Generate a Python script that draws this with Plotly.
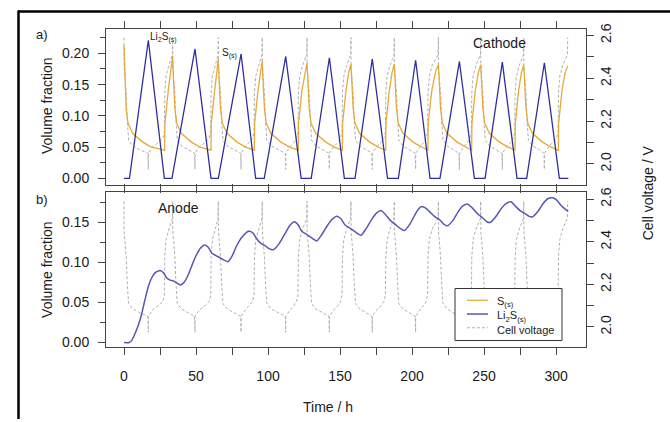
import plotly.graph_objects as go

# ---------------- data ----------------
# Cathode Li2S(s) volume fraction (triangle wave)
li2s_cat_t = [0, 3.8, 16.9, 28.0, 33.3, 49.3, 60.4, 65.5, 81.3, 91.4, 97.4, 112.3, 123.0,
              130.0, 142.6, 153.0, 160.4, 172.4, 183.0, 190.5, 202.5, 212.5, 219.4, 232.9,
              243.3, 250.7, 262.7, 272.9, 279.6, 291.9, 302.3, 308.5]
li2s_cat_v = [0, 0, 0.221, 0, 0, 0.207, 0, 0, 0.199, 0, 0, 0.195, 0,
              0, 0.193, 0, 0, 0.191, 0, 0, 0.189, 0, 0, 0.187,
              0, 0, 0.186, 0, 0, 0.185, 0, 0]

# Cathode S(s) volume fraction
s_cat_t = [0, 0.7, 1.5, 2.8, 6, 13, 19, 28.2, 28.4, 30.7, 32.5,
           33.8, 34.5, 35.3, 36.6, 39.8, 46.8, 52.8, 60.4, 60.6, 62.9, 64.3,
           65.5, 66.2, 67.0, 68.3, 71.5, 78.5, 84.5, 90.5, 90.7, 93.0, 94.7,
           96.0, 96.7, 97.5, 98.8, 102.0, 109.0, 115.0, 121.0, 121.2, 123.5, 125.6,
           127.1, 127.8, 128.6, 129.9, 133.1, 140.1, 146.1, 151.6, 151.8, 154.1, 156.1,
           157.6, 158.3, 159.1, 160.4, 163.6, 170.6, 176.6, 181.7, 181.9, 184.2, 186.2,
           187.7, 188.4, 189.2, 190.5, 193.7, 200.7, 206.7, 211.0, 211.2, 213.7, 216.3,
           218.3, 219.0, 219.8, 221.1, 224.3, 231.3, 237.3, 241.4, 241.6, 243.9, 246.1,
           247.7, 248.4, 249.2, 250.5, 253.7, 260.7, 266.7, 271.5, 271.7, 274.0, 276.0,
           277.6, 278.3, 279.1, 280.4, 283.6, 290.6, 296.6, 301.6, 301.8, 304.1, 306.2,
           308.1]
s_cat_v = [0.2135, 0.150, 0.112, 0.088, 0.072, 0.058, 0.050, 0.045, 0.088, 0.140, 0.170,
           0.196, 0.150, 0.112, 0.088, 0.072, 0.058, 0.050, 0.045, 0.088, 0.140, 0.170,
           0.191, 0.150, 0.112, 0.088, 0.072, 0.058, 0.050, 0.045, 0.088, 0.140, 0.170,
           0.188, 0.150, 0.112, 0.088, 0.072, 0.058, 0.050, 0.045, 0.088, 0.140, 0.170,
           0.185, 0.150, 0.112, 0.088, 0.072, 0.058, 0.050, 0.045, 0.088, 0.140, 0.170,
           0.183, 0.150, 0.112, 0.088, 0.072, 0.058, 0.050, 0.045, 0.088, 0.140, 0.170,
           0.183, 0.150, 0.112, 0.088, 0.072, 0.058, 0.050, 0.045, 0.088, 0.140, 0.170,
           0.182, 0.150, 0.112, 0.088, 0.072, 0.058, 0.050, 0.045, 0.088, 0.140, 0.170,
           0.182, 0.150, 0.112, 0.088, 0.072, 0.058, 0.050, 0.045, 0.088, 0.140, 0.170,
           0.181, 0.150, 0.112, 0.088, 0.072, 0.058, 0.050, 0.045, 0.088, 0.140, 0.168,
           0.180]

# Anode Li2S(s) volume fraction
li2s_an_t = [0, 3.5, 5.5, 7.6, 10, 12.3, 14.5, 16.9, 19, 21.5, 25, 27.5, 29.6, 32, 34.3, 37,
             39.3, 42, 44.7, 47.5, 50.4, 53, 56, 58.5, 60.9, 63.5, 66.6, 69.5, 72.2, 75, 78.2,
             82, 86.5, 89.5, 92, 95, 98, 101, 103.7, 107.5, 111.8, 115, 118.3, 121, 123.4, 126,
             128.5, 131, 133.8, 137, 140.8, 144.5, 147.7, 150.5, 153.5, 156, 158.5, 161.5,
             164.6, 168, 172, 175.5, 178.4, 181.5, 184.7, 188.2, 191.5, 194.7, 198.5, 202.1,
             204.5, 206.7, 209.5, 212.5, 216, 219.4, 222, 224.7, 228.5, 232.2, 235.5, 238.7,
             241.5, 244.9, 249.5, 252, 254.2, 258, 262.2, 265.5, 268.7, 271.5, 275, 278.5,
             281, 283.6, 287.5, 291.2, 294.5, 297.7, 300.5, 302.8, 305.5, 308.5]
li2s_an_v = [0, 0, 0.003, 0.011, 0.022, 0.036, 0.053, 0.070, 0.080, 0.087, 0.090, 0.087,
             0.081, 0.078, 0.077, 0.074, 0.072, 0.076, 0.085, 0.098, 0.110, 0.118, 0.122,
             0.119, 0.112, 0.109, 0.106, 0.103, 0.101, 0.108, 0.121, 0.132, 0.139, 0.137,
             0.130, 0.124, 0.121, 0.117, 0.116, 0.123, 0.136, 0.146, 0.151, 0.147, 0.139,
             0.136, 0.133, 0.130, 0.127, 0.134, 0.145, 0.154, 0.158, 0.155, 0.147, 0.144,
             0.141, 0.137, 0.134, 0.142, 0.154, 0.162, 0.165, 0.160, 0.153, 0.148, 0.143,
             0.140, 0.148, 0.160, 0.167, 0.170, 0.168, 0.163, 0.157, 0.153, 0.148, 0.146,
             0.153, 0.164, 0.171, 0.173, 0.169, 0.162, 0.155, 0.151, 0.150, 0.157, 0.168,
             0.174, 0.176, 0.171, 0.165, 0.161, 0.158, 0.157, 0.164, 0.174, 0.180, 0.181,
             0.178, 0.173, 0.168, 0.164]

# Cell voltage (V)
volt_t = [0, 0.05, 0.7, 1.5, 2.3, 3.2, 6.0, 10.0, 16.6, 16.9, 16.95, 19.9, 23.9, 27.0, 28.0, 28.3, 29.2, 31.2, 33.6,
          33.8, 33.85, 34.5, 35.3, 36.1, 37.0, 39.8, 43.8, 49.0, 49.3, 49.35, 52.3, 56.3, 59.2, 60.2, 60.5, 61.4, 63.4, 65.3,
          65.5, 65.55, 66.2, 67.0, 67.8, 68.7, 71.5, 75.5, 81.0, 81.3, 81.35, 84.3, 87.0, 89.3, 90.3, 90.6, 91.5, 93.5, 95.8,
          96.0, 96.05, 96.7, 97.5, 98.3, 99.2, 102.0, 106.0, 112.0, 112.3, 112.35, 115.3, 118.0, 119.8, 120.8, 121.1, 122.0, 124.0, 126.9,
          127.1, 127.15, 127.8, 128.6, 129.4, 130.3, 133.1, 137.1, 142.3, 142.6, 142.65, 145.6, 148.5, 150.4, 151.4, 151.7, 152.6, 154.6, 157.4,
          157.6, 157.65, 158.3, 159.1, 159.9, 160.8, 163.6, 167.6, 172.1, 172.4, 172.45, 175.4, 178.5, 180.5, 181.5, 181.8, 182.7, 184.7, 187.5,
          187.7, 187.75, 188.4, 189.2, 190.0, 190.9, 193.7, 197.7, 202.2, 202.5, 202.55, 205.5, 208.0, 209.8, 210.8, 211.1, 212.0, 214.0, 218.1,
          218.3, 218.35, 219.0, 219.8, 220.6, 221.5, 224.3, 228.3, 232.6, 232.9, 232.95, 235.9, 238.5, 240.2, 241.2, 241.5, 242.4, 244.4, 247.5,
          247.7, 247.75, 248.4, 249.2, 250.0, 250.9, 253.7, 257.7, 262.4, 262.7, 262.75, 265.7, 268.5, 270.3, 271.3, 271.6, 272.5, 274.5, 277.4,
          277.6, 277.65, 278.3, 279.1, 279.9, 280.8, 283.6, 287.6, 291.6, 291.9, 291.95, 294.9, 298.0, 300.4, 301.4, 301.7, 302.6, 304.6, 307.9,
          308.1]
volt_v = [
    2.59, 2.45, 2.40, 2.33, 2.20, 2.11, 2.085, 2.07, 2.05, 1.975, 2.05, 2.08, 2.10, 2.12, 2.15, 2.33, 2.41, 2.46, 2.51,
    2.59, 2.45, 2.40, 2.33, 2.20, 2.11, 2.085, 2.07, 2.05, 1.975, 2.05, 2.08, 2.10, 2.12, 2.15, 2.33, 2.41, 2.46, 2.51,
    2.59, 2.45, 2.40, 2.33, 2.20, 2.11, 2.085, 2.07, 2.05, 1.975, 2.05, 2.08, 2.10, 2.12, 2.15, 2.33, 2.41, 2.46, 2.51,
    2.59, 2.45, 2.40, 2.33, 2.20, 2.11, 2.085, 2.07, 2.05, 1.975, 2.05, 2.08, 2.10, 2.12, 2.15, 2.33, 2.41, 2.46, 2.51,
    2.59, 2.45, 2.40, 2.33, 2.20, 2.11, 2.085, 2.07, 2.05, 1.975, 2.05, 2.08, 2.10, 2.12, 2.15, 2.33, 2.41, 2.46, 2.51,
    2.59, 2.45, 2.40, 2.33, 2.20, 2.11, 2.085, 2.07, 2.05, 1.975, 2.05, 2.08, 2.10, 2.12, 2.15, 2.33, 2.41, 2.46, 2.51,
    2.59, 2.45, 2.40, 2.33, 2.20, 2.11, 2.085, 2.07, 2.05, 1.975, 2.05, 2.08, 2.10, 2.12, 2.15, 2.33, 2.41, 2.46, 2.51,
    2.59, 2.45, 2.40, 2.33, 2.20, 2.11, 2.085, 2.07, 2.05, 1.975, 2.05, 2.08, 2.10, 2.12, 2.15, 2.33, 2.41, 2.46, 2.51,
    2.59, 2.45, 2.40, 2.33, 2.20, 2.11, 2.085, 2.07, 2.05, 1.975, 2.05, 2.08, 2.10, 2.12, 2.15, 2.33, 2.41, 2.46, 2.51,
    2.59, 2.45, 2.40, 2.33, 2.20, 2.11, 2.085, 2.07, 2.05, 1.975, 2.05, 2.08, 2.10, 2.12, 2.15, 2.33, 2.41, 2.46, 2.51,
    2.59]

x_ticks = [0, 50, 100, 150, 200, 250, 300]
x_minor = [25, 75, 125, 175, 225, 275]
frac_ticks_top = [0.0, 0.05, 0.10, 0.15, 0.20]
frac_ticks_bot = [0.0, 0.05, 0.10, 0.15]
volt_ticks = [2.0, 2.2, 2.4, 2.6]
legend_labels = ["S<sub>(s)</sub>", "Li<sub>2</sub>S<sub>(s)</sub>", "Cell voltage"]

# ---------------- style ----------------
FONT = "Liberation Sans, Arial, Helvetica, sans-serif"
TXT = "#1a1a1a"
AX = "#444444"
C_S = "#E6AA3C"
C_LI_TOP = "#2E2E9E"
C_LI_BOT = "#5656B4"
C_V = "#B0B0B0"

W, H = 670, 422


def px(x):
    return x / W


def py(y):
    return 1 - y / H


XDOM = [px(106), px(586)]
TOPDOM = [py(183), py(24)]
BOTDOM = [py(349), py(191)]
XR = [-12.5, 320.8]

fig = go.Figure()

vline = dict(color=C_V, width=1, dash="3px,2px")
fig.add_trace(go.Scatter(x=volt_t, y=volt_v, mode="lines", line=vline, name="Cell voltage",
                         xaxis="x", yaxis="y"))
fig.add_trace(go.Scatter(x=volt_t, y=volt_v, mode="lines", line=vline, name="Cell voltage",
                         xaxis="x2", yaxis="y3"))
fig.add_trace(go.Scatter(x=s_cat_t, y=s_cat_v, mode="lines", line=dict(color=C_S, width=1.3),
                         name="S<sub>(s)</sub>", xaxis="x", yaxis="y2"))
fig.add_trace(go.Scatter(x=li2s_cat_t, y=li2s_cat_v, mode="lines", line=dict(color=C_LI_TOP, width=1.3),
                         name="Li<sub>2</sub>S<sub>(s)</sub>", xaxis="x", yaxis="y2"))
fig.add_trace(go.Scatter(x=li2s_an_t, y=li2s_an_v, mode="lines",
                         line=dict(color=C_LI_BOT, width=1.5, shape="spline", smoothing=0.6),
                         name="Li<sub>2</sub>S<sub>(s)</sub> anode", xaxis="x2", yaxis="y4"))

tickfont = dict(family=FONT, size=14, color=TXT)
common_x = dict(range=XR, domain=XDOM, showline=True, linecolor=AX, linewidth=1, mirror="ticks",
                ticks="outside", ticklen=7, tickcolor=AX, tickvals=x_ticks,
                minor=dict(tickvals=x_minor, ticks="outside", ticklen=7, tickcolor=AX),
                showgrid=False, zeroline=False, tickfont=tickfont, ticklabelstandoff=9)
volt_ax = dict(side="right", range=[1.904, 2.632], tickvals=volt_ticks, tickformat=".1f",
               tickangle=-90, ticks="outside", ticklen=7, tickcolor=AX,
               minor=dict(tickvals=[2.1, 2.3, 2.5], ticks="outside", ticklen=7, tickcolor=AX),
               showline=True, linecolor=AX, showgrid=False, zeroline=False, tickfont=tickfont,
               ticklabelstandoff=0)
frac_ax = dict(side="left", tickformat=".2f", ticks="outside", ticklen=7, tickcolor=AX,
               showline=True, linecolor=AX, linewidth=1, mirror=True, showgrid=False, zeroline=False,
               tickfont=tickfont, ticklabelstandoff=6)

fig.update_layout(
    width=W, height=H, margin=dict(l=0, r=0, t=0, b=0),
    paper_bgcolor="white", plot_bgcolor="white",
    font=dict(family=FONT, color=TXT),
    showlegend=False,
    xaxis=dict(anchor="y", showticklabels=False, **common_x),
    xaxis2=dict(anchor="y3", showticklabels=True, **common_x),
    yaxis=dict(anchor="x", domain=TOPDOM, **volt_ax),
    yaxis2=dict(anchor="x", overlaying="y", range=[-0.0099, 0.2397], tickvals=frac_ticks_top,
                minor=dict(tickvals=[0.025, 0.075, 0.125, 0.175, 0.225], ticks="outside", ticklen=5, tickcolor=AX),
                **frac_ax),
    yaxis3=dict(anchor="x2", domain=BOTDOM, **volt_ax),
    yaxis4=dict(anchor="x2", overlaying="y3", range=[-0.0061, 0.1877], tickvals=frac_ticks_bot,
                minor=dict(tickvals=[0.025, 0.075, 0.125, 0.175], ticks="outside", ticklen=5, tickcolor=AX),
                **frac_ax),
)

ann = [
    dict(text="Volume fraction", x=px(47), y=py(103), textangle=-90, font_size=14),
    dict(text="Volume fraction", x=px(47), y=py(270), textangle=-90, font_size=14),
    dict(text="Cell voltage / V", x=px(648), y=py(192), textangle=-90, font_size=14),
    dict(text="Time / h", x=px(328), y=py(410), font_size=14),
    dict(text="a)", x=px(42), y=py(30), font_size=13),
    dict(text="b)", x=px(42), y=py(198), font_size=13),
]
for a in ann:
    fig.add_annotation(xref="paper", yref="paper", showarrow=False,
                       xanchor="center", yanchor="middle", font_family=FONT, font_color=TXT, **a)

fig.add_annotation(text="Cathode", x=261, y=0.216, xref="x", yref="y2", showarrow=False,
                   font=dict(family=FONT, size=14, color=TXT))
fig.add_annotation(text="Anode", x=37.8, y=0.168, xref="x2", yref="y4", showarrow=False,
                   font=dict(family=FONT, size=14, color=TXT))
fig.add_annotation(text="Li<sub>2</sub>S<sub>(s)</sub>", x=17, y=0.226, xref="x", yref="y2",
                   showarrow=False, xanchor="left", font=dict(family=FONT, size=10, color=TXT))
fig.add_annotation(text="S<sub>(s)</sub>", x=67.0, y=0.200, xref="x", yref="y2",
                   showarrow=False, xanchor="left", font=dict(family=FONT, size=10, color=TXT))

# legend box (drawn to match the compact base-R legend)
fig.add_shape(type="rect", xref="paper", yref="paper", x0=px(455), x1=px(562), y0=py(342), y1=py(289),
              line=dict(color="#333333", width=1), fillcolor="white", layer="above")
leg_rows = [301, 315, 329]
leg_styles = [dict(color=C_S, width=1.3), dict(color=C_LI_BOT, width=1.5), dict(color=C_V, width=1, dash="3px,2px")]
for ry, st in zip(leg_rows, leg_styles):
    fig.add_shape(type="line", xref="paper", yref="paper", x0=px(467), x1=px(488), y0=py(ry), y1=py(ry),
                  line=st, layer="above")
fig.add_annotation(text="<br>".join(legend_labels), xref="paper", yref="paper", x=px(495), y=py(316),
                   xanchor="left", yanchor="middle", align="left", showarrow=False,
                   font=dict(family=FONT, size=11, color=TXT))

# page frame (top and left black border lines of the reference image)
fig.add_shape(type="line", xref="paper", yref="paper", x0=px(18), x1=1, y0=py(6.5), y1=py(6.5),
              line=dict(color="black", width=2.5))
fig.add_shape(type="line", xref="paper", yref="paper", x0=px(18.5), x1=px(18.5), y0=0, y1=py(5.5),
              line=dict(color="black", width=2.5))

fig.write_html("out.html", config={"displayModeBar": False},
               post_script="document.body.style.margin='0';")
